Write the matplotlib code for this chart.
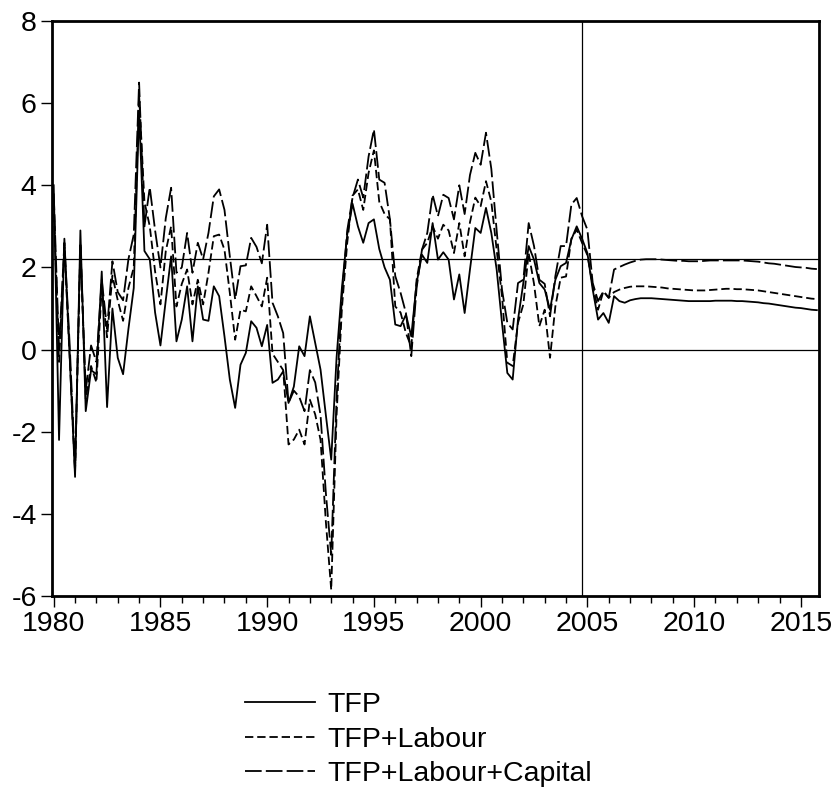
import matplotlib
matplotlib.use("Agg")
import matplotlib.pyplot as plt
import numpy as np
from matplotlib.ticker import MultipleLocator
from matplotlib.lines import Line2D

plt.rcParams['font.family'] = ['Liberation Sans', 'DejaVu Sans']
plt.rcParams['lines.scale_dashes'] = False

start_year = 1980
series_names = ["TFP", "TFP+Labour", "TFP+Labour+Capital"]

tfp = [
    4.0, -2.2, 2.7, -0.2, -3.1, 2.9, -1.5, -0.5, -0.6, 1.9, -1.4, 1.0,
    -0.2, -0.6, 0.5, 1.5, 5.8, 2.4, 2.2, 0.9, 0.1, 1.2, 2.27, 0.2,
    0.73, 1.54, 0.2, 1.54, 0.73, 0.7, 1.54, 1.3, 0.32, -0.73, -1.42, -0.37,
    -0.08, 0.69, 0.53, 0.08, 0.6, -0.81, -0.73, -0.53, -1.3, -0.9, 0.08, -0.16,
    0.81, 0.16, -0.49, -1.6, -2.68, -0.2, 1.5, 2.8, 3.55, 3.0, 2.6, 3.08,
    3.17, 2.45, 2.0, 1.7, 0.61, 0.57, 0.85, 0.32, 1.62, 2.31, 2.11, 3.08,
    2.19, 2.37, 2.19, 1.22, 1.83, 0.89, 1.95, 2.96, 2.84, 3.45, 2.84, 1.95,
    0.65, -0.57, -0.73, 0.73, 1.62, 2.52, 2.19, 1.62, 1.46, 0.97, 1.7, 2.03,
    2.11, 2.68, 3.0, 2.7, 2.35, 1.46, 0.73, 0.89, 0.65, 1.3, 1.18, 1.14,
    1.20, 1.23, 1.25, 1.25, 1.25, 1.24, 1.23, 1.22, 1.21, 1.20, 1.19, 1.18,
    1.18, 1.18, 1.18, 1.18, 1.19, 1.19, 1.19, 1.19, 1.18, 1.18, 1.17, 1.16,
    1.15, 1.13, 1.12, 1.10, 1.08, 1.06, 1.04, 1.02, 1.01, 0.99, 0.97, 0.96,
]

tfp_labour = [
    3.6, -0.3, 2.5, -0.2, -3.0, 2.6, -1.2, -0.4, -0.8, 1.5, 0.3, 1.8,
    1.2, 0.7, 1.5, 2.0, 6.2, 3.6, 3.0, 1.9, 1.1, 2.4, 3.0, 1.05,
    1.6, 1.95, 1.1, 1.7, 1.1, 1.87, 2.76, 2.8, 2.43, 1.38, 0.24, 0.97,
    0.93, 1.54, 1.3, 1.05, 1.75, -0.1, -0.3, -0.5, -2.31, -2.19, -1.95, -2.31,
    -1.22, -1.58, -2.2, -4.2, -5.85, -1.6, 1.0, 2.6, 3.75, 3.9, 3.4, 4.3,
    4.85, 3.6, 3.3, 3.17, 1.05, 0.9, 0.4, 0.07, 1.7, 2.43, 2.6, 3.0,
    2.7, 3.04, 2.9, 2.35, 3.08, 2.27, 3.1, 3.7, 3.49, 4.1, 3.6, 2.43,
    1.3, -0.32, -0.4, 0.65, 1.1, 2.35, 1.6, 0.57, 0.97, -0.2, 1.05, 1.75,
    1.78, 2.7, 2.92, 2.6, 2.3, 1.55, 0.97, 1.42, 1.26, 1.4, 1.46, 1.50,
    1.53, 1.54, 1.54, 1.54, 1.53, 1.52, 1.51, 1.49, 1.48, 1.47, 1.46, 1.45,
    1.44, 1.44, 1.44, 1.45, 1.46, 1.47, 1.48, 1.48, 1.47, 1.47, 1.46, 1.45,
    1.44, 1.42, 1.40, 1.38, 1.36, 1.34, 1.32, 1.30, 1.28, 1.26, 1.24, 1.23,
]

tfp_labour_capital = [
    3.8, 0.0, 2.6, 0.1, -2.9, 2.5, -1.0, 0.1, -0.3, 1.7, 0.5, 2.15,
    1.4, 1.2, 2.2, 2.8, 6.5, 3.0, 3.95, 2.9, 2.0, 3.2, 3.94, 1.87,
    2.0, 2.84, 1.87, 2.6, 2.2, 2.84, 3.73, 3.9, 3.4, 2.27, 1.22, 2.03,
    2.05, 2.72, 2.5, 2.1, 3.04, 1.14, 0.81, 0.4, -1.3, -1.0, -1.15, -1.5,
    -0.5, -0.8, -1.6, -3.5, -5.0, -1.2, 1.3, 2.9, 3.7, 4.14, 3.7, 4.7,
    5.36, 4.14, 4.06, 3.17, 1.79, 1.38, 0.89, -0.16, 1.5, 2.43, 2.84, 3.77,
    3.25, 3.77, 3.69, 3.17, 4.0, 3.3, 4.25, 4.79, 4.5, 5.28, 4.4, 2.9,
    1.46, 0.65, 0.49, 1.62, 1.7, 3.08, 2.52, 1.7, 1.6, 0.81, 1.79, 2.52,
    2.52, 3.53, 3.69, 3.25, 2.92, 1.62, 1.18, 1.42, 1.26, 1.95, 2.01, 2.07,
    2.12, 2.16, 2.19, 2.20, 2.20, 2.20, 2.19, 2.18, 2.17, 2.16, 2.16, 2.15,
    2.15, 2.15, 2.16, 2.17, 2.17, 2.17, 2.17, 2.17, 2.17, 2.17, 2.16, 2.15,
    2.14, 2.12, 2.10, 2.09, 2.07, 2.05, 2.03, 2.01, 2.00, 1.99, 1.97, 1.96,
]

hline_values = [0.0, 2.2]
vline_value = 2004.75
xtick_labels = ["1980", "1985", "1990", "1995", "2000", "2005", "2010", "2015"]
ytick_values = [-6, -4, -2, 0, 2, 4, 6, 8]

n = len(tfp)
t = start_year + np.arange(n) / 4.0

fig = plt.figure(figsize=(8.37, 7.97), dpi=100)
ax = fig.add_axes([52/837, 1-596/797, (819-52)/837, (596-21)/797])

lw = 1.3
styles = [
    dict(linestyle='-', color='black', linewidth=lw),
    dict(linestyle=(0, (6.0, 2.8)), color='black', linewidth=lw),
    dict(linestyle=(0, (12.0, 3.0)), color='black', linewidth=lw),
]
for vals, st in zip([tfp, tfp_labour, tfp_labour_capital], styles):
    ax.plot(t, vals, zorder=3, **st)

for h in hline_values:
    ax.axhline(h, color='black', linewidth=0.9, zorder=1)
ax.axvline(vline_value, color='black', linewidth=0.9, zorder=1)

ax.set_xlim(1979.92, 2015.85)
ax.set_ylim(-6, 8)
ax.set_xticks([int(s) for s in xtick_labels])
ax.set_xticklabels(xtick_labels)
ax.xaxis.set_minor_locator(MultipleLocator(1))
ax.set_yticks(ytick_values)
ax.set_yticklabels([str(v) for v in ytick_values])

for sp in ax.spines.values():
    sp.set_linewidth(2.0)
ax.tick_params(axis='both', which='major', direction='out', length=8, width=1.0,
               labelsize=20.5, pad=3)
ax.tick_params(axis='x', which='minor', direction='out', length=5, width=1.0)

handles = [Line2D([0], [0], **st) for st in styles]
fig.legend(handles, series_names, loc='upper left', bbox_to_anchor=(245/837, 1-692/797),
           frameon=False, fontsize=20.5, handlelength=2.45, handletextpad=0.45,
           labelspacing=0.3, borderpad=0, borderaxespad=0)

fig.savefig("out.png", dpi=100)
